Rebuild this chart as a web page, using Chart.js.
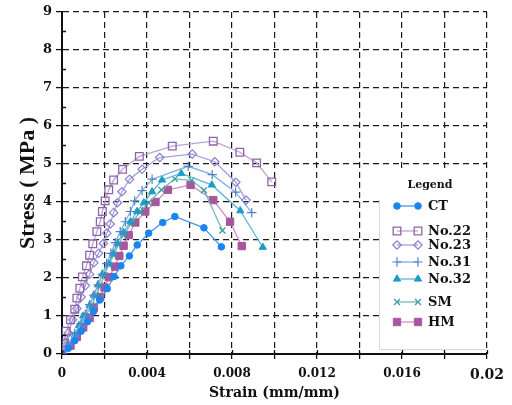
<!DOCTYPE html>
<html lang="en">
<head>
    <meta charset="UTF-8">
    <title>Stress-Strain</title>
    <script src="https://cdn.jsdelivr.net/npm/chart.js"></script>
    <style>
        body { margin: 0; padding: 0; background: #fff; }
        canvas { display: block; }
    </style>
</head>
<body>
    <canvas id="stress-chart" width="512" height="405"></canvas>

    <script>
        // tick labels
        const xTickLabels = ["0", "0.004", "0.008", "0.012", "0.016", "0.02"];
        const yTickLabels = ["0", "1", "2", "3", "4", "5", "6", "7", "8", "9"];

        // series names
        const seriesNames = ["CT", "No.22", "No.23", "No.31", "No.32", "SM", "HM"];

        // strain (mm/mm) and stress (MPa)
        const ctStrain = [0, 0.0003, 0.0006, 0.0009, 0.0012, 0.00148, 0.00178, 0.00213, 0.00245, 0.00277, 0.00317, 0.00354, 0.00408, 0.00474, 0.00531, 0.00668, 0.0075];
        const ctStress = [0, 0.15, 0.35, 0.6, 0.85, 1.12, 1.42, 1.72, 2.04, 2.32, 2.58, 2.87, 3.18, 3.46, 3.62, 3.32, 2.82];

        const no22Strain = [0, 0.0001, 0.0002, 0.0004, 0.0006, 0.0007, 0.00084, 0.00096, 0.00115, 0.0013, 0.00145, 0.00164, 0.0018, 0.0019, 0.00203, 0.0022, 0.00243, 0.00285, 0.00364, 0.00519, 0.00712, 0.00837, 0.00916, 0.00987];
        const no22Stress = [0, 0.3, 0.6, 0.9, 1.18, 1.47, 1.73, 2.03, 2.32, 2.6, 2.9, 3.22, 3.48, 3.75, 4.03, 4.32, 4.58, 4.86, 5.2, 5.47, 5.6, 5.31, 5.03, 4.53];

        const no23Strain = [0, 0.00015, 0.0003, 0.0005, 0.0007, 0.0009, 0.0011, 0.0013, 0.0015, 0.00172, 0.00195, 0.00211, 0.00227, 0.00243, 0.00261, 0.00282, 0.00318, 0.00377, 0.0046, 0.00613, 0.00719, 0.00818, 0.00866];
        const no23Stress = [0, 0.28, 0.55, 0.9, 1.2, 1.5, 1.8, 2.1, 2.4, 2.65, 2.91, 3.18, 3.42, 3.72, 3.98, 4.27, 4.6, 4.86, 5.17, 5.26, 5.06, 4.52, 4.05];

        const no31Strain = [0, 0.0003, 0.0006, 0.0009, 0.0011, 0.0013, 0.0015, 0.0017, 0.0019, 0.0021, 0.0023, 0.00251, 0.00274, 0.00298, 0.00322, 0.00342, 0.00377, 0.00424, 0.00594, 0.00707, 0.00817, 0.00893];
        const no31Stress = [0, 0.28, 0.55, 0.8, 1.05, 1.3, 1.55, 1.82, 2.1, 2.38, 2.65, 2.93, 3.22, 3.48, 3.75, 4.03, 4.3, 4.6, 4.94, 4.72, 4.26, 3.72];

        const no32Strain = [0, 0.0003, 0.0006, 0.0008, 0.001, 0.0013, 0.0015, 0.0017, 0.0019, 0.0022, 0.0024, 0.0026, 0.0029, 0.00322, 0.00353, 0.00385, 0.00424, 0.00471, 0.00561, 0.00705, 0.00839, 0.00945];
        const no32Stress = [0, 0.25, 0.5, 0.75, 1.0, 1.28, 1.55, 1.82, 2.1, 2.38, 2.65, 2.92, 3.2, 3.48, 3.75, 3.98, 4.27, 4.58, 4.75, 4.45, 3.77, 2.81];

        const smStrain = [0, 0.0003, 0.0006, 0.0009, 0.0011, 0.0014, 0.0016, 0.0018, 0.002, 0.0022, 0.00243, 0.00265, 0.0029, 0.00329, 0.00369, 0.00408, 0.00468, 0.00531, 0.0061, 0.00668, 0.00755];
        const smStress = [0, 0.25, 0.5, 0.75, 1.0, 1.28, 1.55, 1.8, 2.08, 2.35, 2.6, 2.87, 3.13, 3.46, 3.75, 3.98, 4.32, 4.61, 4.57, 4.31, 3.25];

        const hmStrain = [0, 0.0004, 0.0007, 0.001, 0.0013, 0.0015, 0.0018, 0.002, 0.0022, 0.0025, 0.0027, 0.0029, 0.00314, 0.00345, 0.00392, 0.0044, 0.00498, 0.00605, 0.00712, 0.00791, 0.00846];
        const hmStress = [0, 0.22, 0.45, 0.7, 0.95, 1.22, 1.5, 1.75, 2.02, 2.3, 2.58, 2.85, 3.13, 3.46, 3.75, 4.0, 4.32, 4.45, 4.05, 3.48, 2.84];

        const strains = [ctStrain, no22Strain, no23Strain, no31Strain, no32Strain, smStrain, hmStrain];
        const stresses = [ctStress, no22Stress, no23Stress, no31Stress, no32Stress, smStress, hmStress];

        // look of each series
        const styles = [
            { line: "#3f97f2", point: "#1a84f0", fill: "#1a84f0", shape: "circle", r: 3.3, w: 1 },
            { line: "#bea4d2", point: "#8f64aa", fill: "rgba(0,0,0,0)", shape: "rect", r: 5.4, w: 1.3 },
            { line: "#a69de0", point: "#8a80cc", fill: "rgba(0,0,0,0)", shape: "rectRot", r: 4.2, w: 1.2 },
            { line: "#84ade2", point: "#4f84c6", fill: "#4f84c6", shape: "cross", r: 4.7, w: 1.2 },
            { line: "#5ab8d8", point: "#1e9cc8", fill: "#1e9cc8", shape: "triangle", r: 4.2, w: 1 },
            { line: "#6fbcb6", point: "#3a9e9a", fill: "#3a9e9a", shape: "crossRot", r: 4.2, w: 1.3 },
            { line: "#cf8ec4", point: "#a8569e", fill: "#a8569e", shape: "rect", r: 5.2, w: 1 }
        ];

        const datasets = seriesNames.map((name, i) => ({
            label: name,
            data: strains[i].map((s, j) => ({ x: s, y: stresses[i][j] })),
            showLine: true,
            borderColor: styles[i].line,
            borderWidth: 1.3,
            pointStyle: styles[i].shape,
            pointRadius: styles[i].r,
            pointBorderColor: styles[i].point,
            pointBackgroundColor: styles[i].fill,
            pointBorderWidth: styles[i].w,
            tension: 0
        }));

        // short inner ticks: half units on y, every step on x
        const innerTicks = {
            id: "innerTicks",
            afterDraw(chart) {
                const ctx = chart.ctx;
                const xs = chart.scales.x, ys = chart.scales.y;
                ctx.save();
                ctx.strokeStyle = "#111";
                ctx.lineWidth = 1.3;
                ctx.beginPath();
                ys.ticks.forEach(t => {
                    if (t.value < ys.max) {
                        const y = Math.round(ys.getPixelForValue(t.value + 0.5)) + 0.5;
                        ctx.moveTo(xs.left, y);
                        ctx.lineTo(xs.left + 4, y);
                    }
                });
                xs.ticks.forEach(t => {
                    const x = Math.round(xs.getPixelForValue(t.value)) + 0.5;
                    ctx.moveTo(x, ys.bottom);
                    ctx.lineTo(x, ys.bottom - 4);
                });
                ctx.stroke();
                ctx.restore();
            }
        };

        // legend box drawn inside the plot, over the grid
        const boxLegend = {
            id: "boxLegend",
            afterDatasetsDraw(chart) {
                const ctx = chart.ctx;
                ctx.save();
                ctx.fillStyle = "#fff";
                ctx.fillRect(379, 168, 107, 181);
                ctx.strokeStyle = "#d8d8d8";
                ctx.lineWidth = 1;
                ctx.beginPath();
                ctx.moveTo(379.5, 200);
                ctx.lineTo(379.5, 349.5);
                ctx.lineTo(486, 349.5);
                ctx.stroke();

                ctx.fillStyle = "#111";
                ctx.font = "bold 11px 'DejaVu Serif'";
                ctx.textAlign = "center";
                ctx.textBaseline = "middle";
                ctx.fillText("Legend", 430, 185);

                const rows = [206, 231, 245, 262, 279, 302, 322];
                ctx.textAlign = "left";
                ctx.font = "bold 13px 'DejaVu Serif'";
                chart.data.datasets.forEach((ds, i) => {
                    const y = rows[i];
                    ctx.strokeStyle = ds.borderColor;
                    ctx.lineWidth = 1.3;
                    ctx.beginPath();
                    ctx.moveTo(397, y);
                    ctx.lineTo(418, y);
                    ctx.stroke();
                    [397, 418].forEach(x => {
                        ctx.strokeStyle = ds.pointBorderColor;
                        ctx.fillStyle = ds.pointBackgroundColor;
                        ctx.lineWidth = ds.pointBorderWidth;
                        Chart.helpers.drawPoint(ctx, { pointStyle: ds.pointStyle, radius: ds.pointRadius, rotation: 0, borderWidth: ds.pointBorderWidth }, x, y);
                    });
                    ctx.fillStyle = "#111";
                    ctx.fillText(ds.label, 428, y + 1);
                });
                ctx.restore();
            }
        };

        new Chart(document.getElementById("stress-chart").getContext("2d"), {
            type: "scatter",
            data: { datasets: datasets },
            options: {
                responsive: false,
                animation: false,
                devicePixelRatio: 1,
                layout: { padding: { top: 12, right: 25, left: 0, bottom: 0 } },
                plugins: { legend: { display: false }, tooltip: { enabled: false } },
                scales: {
                    x: {
                        type: "linear",
                        min: 0,
                        max: 0.02,
                        afterFit: scale => { scale.height = 51; },
                        grid: { color: "#1a1a1a", lineWidth: 1.2, tickLength: 5, tickColor: "#111", tickWidth: 1.3 },
                        border: { color: "#111", width: 2, dash: [6, 4] },
                        ticks: {
                            stepSize: 0.002,
                            autoSkip: false,
                            maxRotation: 0,
                            padding: 8,
                            color: "#111",
                            font: ctx => ctx.index === 10
                                ? { family: "'DejaVu Serif'", size: 14, weight: "bold" }
                                : { family: "'DejaVu Serif'", size: 12, weight: "bold" },
                            callback: (v, i) => i % 2 === 0 ? xTickLabels[i / 2] : ""
                        },
                        title: {
                            display: true,
                            text: "Strain (mm/mm)",
                            color: "#111",
                            font: { family: "'DejaVu Serif'", size: 14, weight: "bold" },
                            padding: { top: 0, bottom: 3 }
                        }
                    },
                    y: {
                        min: 0,
                        max: 9,
                        afterFit: scale => { scale.width = 62; },
                        grid: { color: "#1a1a1a", lineWidth: 1.2, tickLength: 6, tickColor: "#111", tickWidth: 1.3 },
                        border: { color: "#111", width: 2, dash: [6, 4] },
                        ticks: {
                            stepSize: 1,
                            padding: 4,
                            color: "#111",
                            font: { family: "'DejaVu Serif'", size: 13, weight: "bold" },
                            callback: (v, i) => yTickLabels[i]
                        },
                        title: {
                            display: true,
                            text: "Stress ( MPa )",
                            color: "#111",
                            font: { family: "'Liberation Serif'", size: 22, weight: "bold" },
                            padding: { top: 15, bottom: 0 }
                        }
                    }
                }
            },
            plugins: [boxLegend, innerTicks]
        });
    </script>
</body>
</html>
